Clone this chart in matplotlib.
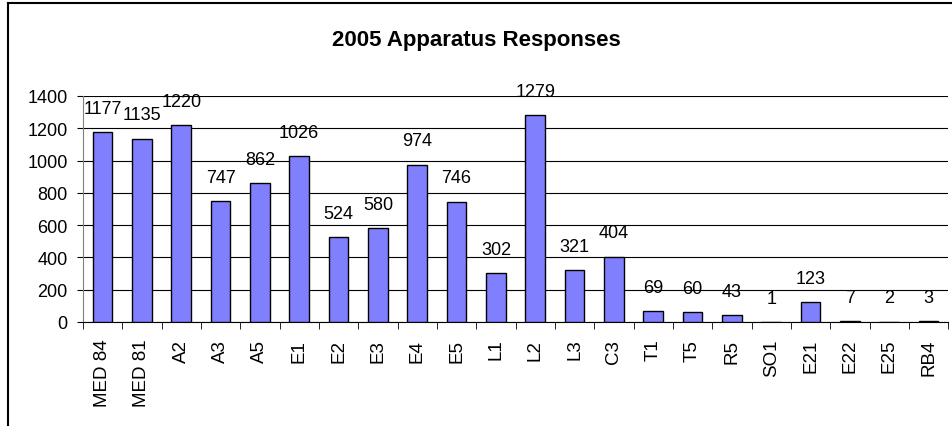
import matplotlib.pyplot as plt
from matplotlib.lines import Line2D
import numpy as np

plt.rcParams['font.family'] = ['Liberation Sans', 'DejaVu Sans']

# Apparatus names and 2005 response counts
units = ['MED 84', 'MED 81', 'A2', 'A3', 'A5', 'E1', 'E2', 'E3', 'E4', 'E5', 'L1',
         'L2', 'L3', 'C3', 'T1', 'T5', 'R5', 'SO1', 'E21', 'E22', 'E25', 'RB4']
responses = [1177, 1135, 1220, 747, 862, 1026, 524, 580, 974, 746, 302,
             1279, 321, 404, 69, 60, 43, 1, 123, 7, 2, 3]
yticks = [0, 200, 400, 600, 800, 1000, 1200, 1400]

fig = plt.figure(figsize=(9.53, 4.27), dpi=100)
ax = fig.add_axes([0.087, 0.2436, 0.908, 0.5294])

x = np.arange(len(units))
ax.bar(x, responses, width=0.5, color='#8080FF', edgecolor='black', linewidth=1, zorder=3)

for xi, v in zip(x, responses):
    ax.annotate(str(v), (xi, v), xytext=(0, 11), textcoords='offset points',
                ha='center', va='bottom', fontsize=13, zorder=4, annotation_clip=False)

ax.set_xlim(-0.5, len(units) - 0.5)
ax.set_ylim(0, 1400)
ax.set_yticks(yticks)
ax.tick_params(axis='y', labelsize=13, direction='out', length=4, pad=7)
ax.yaxis.grid(True, color='black', linewidth=0.8, zorder=0)

# category labels between boundary ticks, Excel style
ax.set_xticks(x)
ax.set_xticklabels(units, rotation=90, fontsize=13.5)
ax.tick_params(axis='x', length=0, pad=12)
ax.set_xticks(np.arange(len(units) + 1) - 0.5, minor=True)
ax.tick_params(axis='x', which='minor', length=5, direction='out')

for s in ['top', 'right']:
    ax.spines[s].set_visible(False)
ax.spines['left'].set_color('#808080')
ax.spines['bottom'].set_color('black')

fig.text(0.5, 0.905, '2005 Apparatus Responses', ha='center', va='center',
         fontsize=16, fontweight='bold')

# chart area border (left and top visible)
fig.add_artist(Line2D([0.008, 0.008], [0.0, 0.99], color='black', linewidth=1.5))
fig.add_artist(Line2D([0.008, 1.0], [0.99, 0.99], color='black', linewidth=1.5))

fig.savefig('out.png', dpi=100)
